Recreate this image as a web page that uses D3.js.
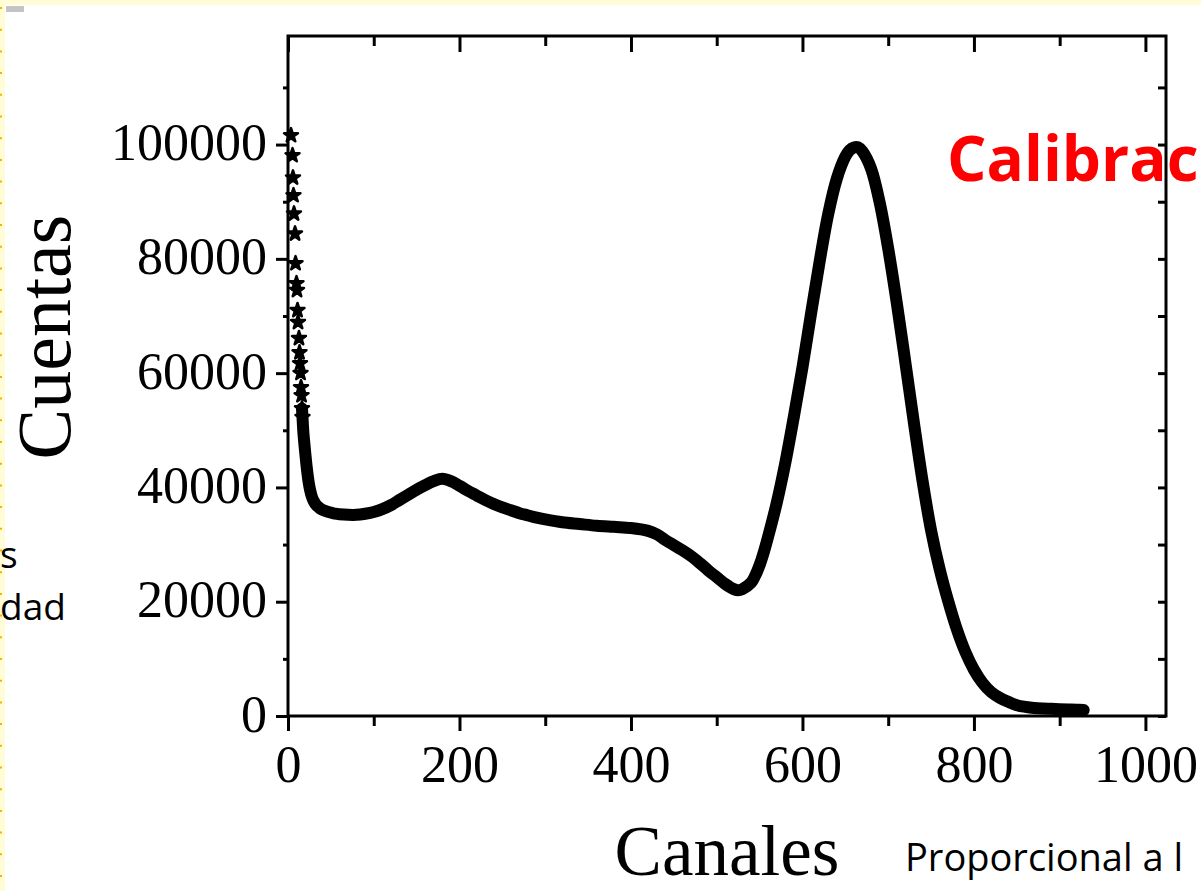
<!DOCTYPE html>
<html>
<head>
<meta charset="utf-8">
<script src="https://cdn.jsdelivr.net/npm/d3@7"></script>
<style>
  html, body { margin: 0; padding: 0; background: #ffffff; overflow: hidden; }
  svg { display: block; }
</style>
</head>
<body>
<svg id="chart" width="1201" height="891"></svg>
<script>
// Gamma spectrum: counts per channel
const channels = [3.5,5.3,5.8,6.4,7.0,8.2,8.8,9.9,10.5,11.1,11.7,12.8,13.4,14.0,14.6,15.2,15.8,16.3,16.9,
  18,19,20,22,24,26,28,30,33,36,40,45,50,55,60,70,80,90,100,110,120,130,140,150,160,170,180,190,200,
  210,220,230,240,250,260,270,280,290,300,320,340,360,380,400,420,430,440,450,460,470,480,490,500,
  510,520,525,530,540,545,550,555,560,570,580,590,600,610,620,630,640,650,655,660,665,670,680,690,700,
  710,720,730,740,750,760,770,780,790,800,810,820,830,840,850,860,870,880,890,900,910,920,928];
const counts = [101600,98100,94200,91100,87900,84400,79200,75700,74500,71000,68900,66100,63600,61700,60000,57500,56100,53800,52300,
  49500,47800,46200,43300,41000,39400,38300,37600,36900,36500,36100,35800,35600,35400,35300,35200,35200,35400,35700,36200,36900,37800,38700,39600,40400,41100,41500,41100,40300,
  39400,38600,37800,37100,36500,36000,35500,35100,34700,34400,33900,33600,33300,33100,32900,32400,31800,30800,29900,29000,28000,26800,25500,24300,
  23100,22200,22000,22200,23300,24600,26400,28700,31400,37300,44300,52400,61000,70400,79500,87800,94000,97900,99000,99500,99500,98800,95800,89900,81800,
  72300,61900,51300,41200,32500,25700,20100,15200,11200,8100,5800,4200,3200,2500,1900,1600,1400,1300,1250,1200,1150,1100,1050];

const xMajorTicks = [0, 200, 400, 600, 800, 1000];
const xMinorTicks = [100, 300, 500, 700, 900];
const yMajorTicks = [0, 20000, 40000, 60000, 80000, 100000];
const yMinorTicks = [10000, 30000, 50000, 70000, 90000, 110000];

const xTitle = "Canales";
const yTitle = "Cuentas";
const calibText = "Calibrac";
const noteText = "Proporcional a l";
const sideTexts = ["s", "dad"];

const svg = d3.select("#chart");
const W = 1201, H = 891;

// slide background: pale yellow border strips with a dotted edge
svg.append("rect").attr("x", 0).attr("y", 0).attr("width", W).attr("height", H).attr("fill", "#ffffff");
svg.append("rect").attr("x", 0).attr("y", 0).attr("width", W).attr("height", 5).attr("fill", "#fffcd6");
svg.append("rect").attr("x", 0).attr("y", 0).attr("width", 5).attr("height", H).attr("fill", "#fffcd6");
svg.append("line").attr("x1", 1).attr("x2", 1).attr("y1", 7).attr("y2", H)
  .attr("stroke", "#f4b400").attr("stroke-width", 2).attr("stroke-dasharray", "2,19.7");
svg.append("rect").attr("x", 6).attr("y", 6).attr("width", 18).attr("height", 6).attr("fill", "#c4c4c4");

const plot = { left: 288, right: 1166, top: 36, bottom: 716 };
const x = d3.scaleLinear().domain([0, 1024]).range([plot.left, plot.right]);
const y = d3.scaleLinear().domain([0, 119000]).range([plot.bottom, plot.top]);

const data = channels.map((c, i) => ({ c, v: counts[i] }));

// axes (ticks only; the frame is drawn separately)
function styleAxis(g) {
  g.select(".domain").remove();
  g.selectAll(".tick line").attr("stroke", "#000").attr("stroke-width", 3);
  g.selectAll(".tick text").attr("font-family", "'Liberation Serif', 'Times New Roman', serif")
    .attr("font-size", 52).attr("fill", "#000");
}

const tf = d3.format("d");
// bottom
svg.append("g").attr("transform", `translate(0,${plot.bottom})`)
  .call(d3.axisBottom(x).tickValues(xMajorTicks).tickSize(15).tickPadding(14).tickFormat(tf))
  .call(styleAxis);
svg.append("g").attr("transform", `translate(0,${plot.bottom})`)
  .call(d3.axisBottom(x).tickValues(xMinorTicks).tickSize(10).tickFormat(""))
  .call(styleAxis);
// top (inward)
svg.append("g").attr("transform", `translate(0,${plot.top})`)
  .call(d3.axisTop(x).tickValues(xMajorTicks).tickSize(-16).tickFormat(""))
  .call(styleAxis);
svg.append("g").attr("transform", `translate(0,${plot.top})`)
  .call(d3.axisTop(x).tickValues(xMinorTicks).tickSize(-10).tickFormat(""))
  .call(styleAxis);
// left
const yLeft = svg.append("g").attr("transform", `translate(${plot.left},0)`)
  .call(d3.axisLeft(y).tickValues(yMajorTicks).tickSize(12).tickPadding(9).tickFormat(tf))
  .call(styleAxis);
yLeft.selectAll(".tick text").attr("dy", null).attr("dominant-baseline", "auto").attr("y", 15);
svg.append("g").attr("transform", `translate(${plot.left},0)`)
  .call(d3.axisLeft(y).tickValues(yMinorTicks).tickSize(5).tickFormat(""))
  .call(styleAxis);
// right (inward)
svg.append("g").attr("transform", `translate(${plot.right},0)`)
  .call(d3.axisRight(y).tickValues(yMajorTicks.concat(yMinorTicks)).tickSize(-8).tickFormat(""))
  .call(styleAxis);

svg.selectAll("g .tick text").filter(function () { return this.textContent === ""; }).remove();

// spectrum: where samples crowd together they merge into a thick trace;
// the steep low-channel samples stand apart as star markers
const dense = data.filter(d => d.c >= 16);
const sparse = data.filter(d => d.c < 18);
const line = d3.line().x(d => x(d.c)).y(d => y(d.v)).curve(d3.curveCatmullRom.alpha(0.5));
svg.append("path").datum(dense).attr("d", line)
  .attr("fill", "none").attr("stroke", "#000").attr("stroke-width", 12)
  .attr("stroke-linejoin", "round").attr("stroke-linecap", "round");

const star = d3.symbol().type(d3.symbolStar).size(60);
svg.append("g").selectAll("path").data(sparse).join("path")
  .attr("transform", d => `translate(${x(d.c)},${y(d.v)})`)
  .attr("d", star).attr("fill", "#000").attr("stroke", "#000").attr("stroke-width", 2.5)
  .attr("stroke-linejoin", "round");

// frame
svg.append("rect").attr("x", plot.left).attr("y", plot.top)
  .attr("width", plot.right - plot.left).attr("height", plot.bottom - plot.top)
  .attr("fill", "none").attr("stroke", "#000").attr("stroke-width", 3);

// axis titles
svg.append("text").attr("x", (plot.left + plot.right) / 2).attr("y", 875)
  .attr("text-anchor", "middle").attr("font-family", "'Liberation Serif', 'Times New Roman', serif")
  .attr("font-size", 71).attr("fill", "#000").text(xTitle);
svg.append("text").attr("transform", "translate(70,337) rotate(-90)")
  .attr("text-anchor", "middle").attr("font-family", "'Liberation Serif', 'Times New Roman', serif")
  .attr("font-size", 76).attr("fill", "#000").text(yTitle);

// slide annotations
svg.append("text").attr("x", 947).attr("y", 181)
  .attr("font-family", "'Comic Sans MS', 'Open Sans', sans-serif").attr("font-weight", 700)
  .attr("font-size", 62).attr("fill", "#ff0000").text(calibText);
svg.append("text").attr("x", 905).attr("y", 871)
  .attr("font-family", "'Comic Sans MS', 'Open Sans', sans-serif")
  .attr("font-size", 38).attr("fill", "#000").text(noteText);
svg.append("text").attr("x", 0).attr("y", 568)
  .attr("font-family", "'Comic Sans MS', 'Open Sans', sans-serif")
  .attr("font-size", 37).attr("fill", "#000").text(sideTexts[0]);
svg.append("text").attr("x", 0).attr("y", 620)
  .attr("font-family", "'Comic Sans MS', 'Open Sans', sans-serif")
  .attr("font-size", 37).attr("fill", "#000").text(sideTexts[1]);
</script>
</body>
</html>
